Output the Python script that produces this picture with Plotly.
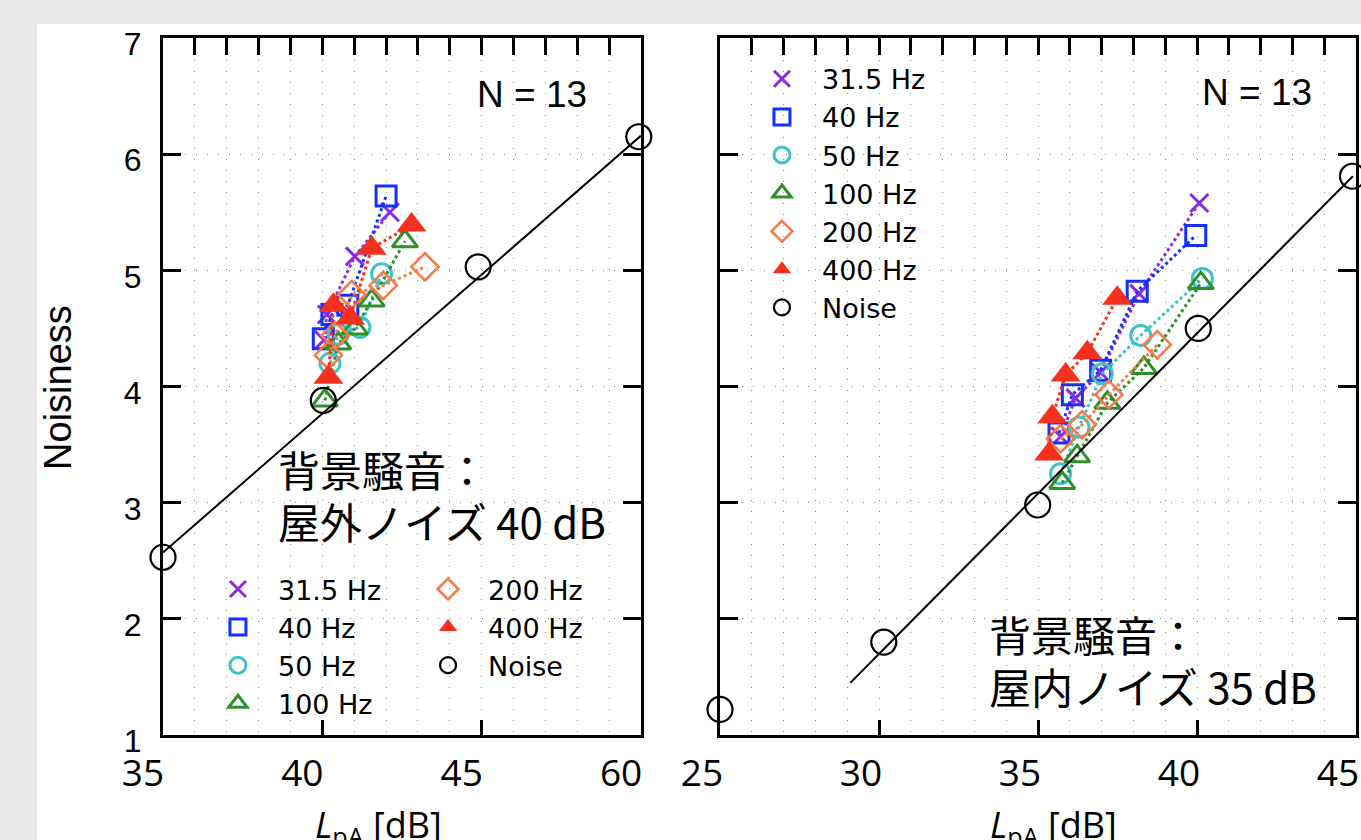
import plotly.graph_objects as go

# ---------------- data ----------------
series_names = ["31.5 Hz", "40 Hz", "50 Hz", "100 Hz", "200 Hz", "400 Hz"]

# Left panel: background noise = outdoor noise 40 dB
out_x_315 = [40.05, 40.14, 41.02, 42.12]
out_y_315 = [4.40, 4.62, 5.12, 5.50]
out_x_40 = [40.03, 40.30, 40.80, 42.00]
out_y_40 = [4.41, 4.62, 4.70, 5.64]
out_x_50 = [40.24, 40.50, 41.18, 41.86]
out_y_50 = [4.20, 4.45, 4.51, 4.97]
out_x_100 = [40.08, 40.50, 41.02, 41.55, 42.59]
out_y_100 = [3.88, 4.37, 4.50, 4.74, 5.25]
out_x_200 = [40.19, 40.40, 40.92, 41.91, 43.22]
out_y_200 = [4.27, 4.44, 4.79, 4.87, 5.03]
out_x_400 = [40.19, 40.35, 40.87, 41.55, 42.80]
out_y_400 = [4.08, 4.70, 4.59, 5.19, 5.39]
out_noise_x = [35.0, 40.03, 44.89, 49.93]
out_noise_y = [2.53, 3.88, 5.03, 6.15]
out_fit_x = [35.0, 50.0]
out_fit_y = [2.57, 6.16]

# Right panel: background noise = indoor noise 35 dB
in_x_315 = [35.71, 36.18, 36.97, 38.18, 40.07]
in_y_315 = [3.57, 3.90, 4.12, 4.80, 5.58]
in_x_40 = [35.66, 36.08, 36.97, 38.12, 39.96]
in_y_40 = [3.60, 3.93, 4.14, 4.82, 5.30]
in_x_50 = [35.71, 36.29, 37.02, 38.23, 40.17]
in_y_50 = [3.25, 3.65, 4.11, 4.44, 4.93]
in_x_100 = [35.76, 36.23, 37.18, 38.33, 40.12]
in_y_100 = [3.17, 3.40, 3.86, 4.16, 4.89]
in_x_200 = [35.71, 36.39, 37.23, 38.75]
in_y_200 = [3.55, 3.67, 3.93, 4.36]
in_x_400 = [35.35, 35.45, 35.87, 36.55, 37.49]
in_y_400 = [3.42, 3.74, 4.10, 4.29, 4.76]
in_noise_x = [25.0, 30.15, 34.99, 40.04, 44.89]
in_noise_y = [1.22, 1.80, 2.98, 4.50, 5.81]
in_fit_x = [29.1, 44.9]
in_fit_y = [1.45, 5.81]

left_ticks = [35, 40, 45, 50]
left_ticktext = ["35", "40", "45", "60"]
right_ticks = [25, 30, 35, 40, 45]
right_ticktext = ["25", "30", "35", "40", "45"]
y_ticks = [1, 2, 3, 4, 5, 6, 7]

n_text = "N = 13"
left_note = ["背景騒音：", "屋外ノイズ 40 dB"]
right_note = ["背景騒音：", "屋内ノイズ 35 dB"]

# ---------------- styles ----------------
styles = {
    "31.5 Hz": dict(color="#8a2be2", symbol="x-thin-open", size=18, lw=3),
    "40 Hz": dict(color="#1430ff", symbol="square-open", size=20, lw=3),
    "50 Hz": dict(color="#3ec2c6", symbol="circle-open", size=20, lw=3),
    "100 Hz": dict(color="#2f8f2a", symbol="triangle-up-open", size=22, lw=3),
    "200 Hz": dict(color="#f47c48", symbol="diamond-open", size=21, lw=2.6),
    "400 Hz": dict(color="#f5301f", symbol="triangle-up", size=26, lw=0),
    "Noise": dict(color="black", symbol="circle-open", size=25, lw=2.2),
}

left_data = {
    "31.5 Hz": (out_x_315, out_y_315),
    "40 Hz": (out_x_40, out_y_40),
    "50 Hz": (out_x_50, out_y_50),
    "100 Hz": (out_x_100, out_y_100),
    "200 Hz": (out_x_200, out_y_200),
    "400 Hz": (out_x_400, out_y_400),
}
right_data = {
    "31.5 Hz": (in_x_315, in_y_315),
    "40 Hz": (in_x_40, in_y_40),
    "50 Hz": (in_x_50, in_y_50),
    "100 Hz": (in_x_100, in_y_100),
    "200 Hz": (in_x_200, in_y_200),
    "400 Hz": (in_x_400, in_y_400),
}

fig = go.Figure()


def marker_of(name):
    s = styles[name]
    return dict(color=s["color"], symbol=s["symbol"], size=s["size"],
                line=dict(color=s["color"], width=s["lw"]))


def add_panel(data, noise_x, noise_y, fit_x, fit_y, xa, xa_top, ya, legend_for):
    # regression line for noise (on the top overlay axis, same scale)
    fig.add_trace(go.Scatter(x=fit_x, y=fit_y, mode="lines", xaxis=xa_top, yaxis=ya,
                             line=dict(color="black", width=2), showlegend=False,
                             hoverinfo="skip"))
    for name in series_names:
        xs, ys = data[name]
        fig.add_trace(go.Scatter(x=xs, y=ys, mode="lines", xaxis=xa, yaxis=ya,
                                 line=dict(color=styles[name]["color"], width=3, dash="dot"),
                                 showlegend=False, hoverinfo="skip"))
        fig.add_trace(go.Scatter(x=xs, y=ys, mode="markers", xaxis=xa, yaxis=ya,
                                 name=name, marker=marker_of(name),
                                 legend=legend_for(name)))
    fig.add_trace(go.Scatter(x=noise_x, y=noise_y, mode="markers", xaxis=xa, yaxis=ya,
                             name="Noise", marker=marker_of("Noise"), cliponaxis=False,
                             legend=legend_for("Noise")))


add_panel(left_data, out_noise_x, out_noise_y, out_fit_x, out_fit_y, "x", "x3", "y",
          lambda n: "legend" if n in ("31.5 Hz", "40 Hz", "50 Hz", "100 Hz") else "legend2")
add_panel(right_data, in_noise_x, in_noise_y, in_fit_x, in_fit_y, "x2", "x4", "y2",
          lambda n: "legend3")

GRID = dict(showgrid=True, gridcolor="#8a8a8a", gridwidth=1.3, griddash="1px,10px")
FRAME = dict(showline=True, linecolor="black", linewidth=3, zeroline=False,
             ticks="inside", tickcolor="black", tickwidth=3)
XTICKFONT = dict(family="Open Sans", size=37, color="black")

legend_common = dict(font=dict(family="DejaVu Sans", size=27, color="black"),
                     bgcolor="rgba(0,0,0,0)", itemwidth=70, xanchor="left",
                     yanchor="top", traceorder="normal", tracegroupgap=0)

fig.update_layout(
    template="none",
    width=1361, height=840,
    margin=dict(l=163, r=5, t=38, b=105, autoexpand=False),
    paper_bgcolor="#e8e8e8", plot_bgcolor="white",
    font=dict(family="Liberation Sans", color="black"),
    xaxis=dict(domain=[0, 0.4007], range=[35, 50], anchor="y",
               tickmode="array", tickvals=left_ticks, ticktext=left_ticktext,
               ticklen=15, showgrid=False, mirror=False, tickfont=XTICKFONT,
               ticklabelshift=-20, ticklabelstandoff=4, ticklabeloverflow="allow",
               automargin=False, **FRAME),
    xaxis3=dict(overlaying="x", side="top", anchor="y", range=[35, 50],
                tickmode="linear", tick0=35, dtick=1, ticklen=17,
                showticklabels=False, automargin=False, **FRAME, **GRID),
    yaxis=dict(domain=[0, 1], range=[1, 7], anchor="x", tickmode="array",
               tickvals=y_ticks, ticklen=18, mirror="ticks",
               tickfont=dict(family="Liberation Sans", size=32, color="black"),
               ticklabelstandoff=12, ticklabelshift=6, automargin=False,
               **FRAME, **GRID),
    xaxis2=dict(domain=[0.4669, 1], range=[25, 45], anchor="y2",
                tickmode="array", tickvals=right_ticks, ticktext=right_ticktext,
                ticklen=15, showgrid=False, mirror=False, tickfont=XTICKFONT,
                ticklabelshift=-18, ticklabelstandoff=4, ticklabeloverflow="allow",
                automargin=False, **FRAME),
    xaxis4=dict(overlaying="x2", side="top", anchor="y2", range=[25, 45],
                tickmode="linear", tick0=25, dtick=1, ticklen=17,
                showticklabels=False, automargin=False, **FRAME, **GRID),
    yaxis2=dict(domain=[0, 1], range=[1, 7], anchor="x2", tickmode="array",
                tickvals=y_ticks, ticklen=18, mirror="ticks", showticklabels=False,
                automargin=False, **FRAME, **GRID),
    legend=dict(x=0.0293, y=0.2440, **legend_common),
    legend2=dict(x=0.2054, y=0.2440, **legend_common),
    legend3=dict(x=0.4853, y=0.976, **legend_common),
    shapes=[dict(type="rect", xref="paper", yref="paper", x0=-0.1056, x1=1.05,
                 y0=-0.3, y1=1.0201, fillcolor="white", line=dict(width=0),
                 layer="below")],
)

ann = []
NFONT = dict(family="Liberation Sans", size=37, color="black")
JFONT = dict(family="Noto Sans CJK JP", size=42, color="black")
TFONT = dict(family="Open Sans", size=36, color="black")
ann.append(dict(text=n_text, x=46.58, y=6.51, xref="x", yref="y", showarrow=False,
                font=NFONT, xanchor="center", yanchor="middle"))
ann.append(dict(text=n_text, x=41.88, y=6.53, xref="x2", yref="y2", showarrow=False,
                font=NFONT, xanchor="center", yanchor="middle"))
for i, (yl, yr) in enumerate([(3.29, 1.87), (2.85, 1.43)]):
    ann.append(dict(text=left_note[i], x=38.55, y=yl, xref="x", yref="y", showarrow=False,
                    font=JFONT, xanchor="left", yanchor="middle"))
    ann.append(dict(text=right_note[i], x=33.40, y=yr, xref="x2", yref="y2", showarrow=False,
                    font=JFONT, xanchor="left", yanchor="middle"))
xtitle = "<i>L</i><sub>pA</sub> [dB]"
ann.append(dict(text=xtitle, x=41.75, y=-0.131, xref="x", yref="paper", showarrow=False,
                font=TFONT, xanchor="center", yanchor="middle"))
ann.append(dict(text=xtitle, x=35.49, y=-0.131, xref="x2", yref="paper", showarrow=False,
                font=TFONT, xanchor="center", yanchor="middle"))
ann.append(dict(text="Noisiness", x=-0.088, y=0.498, xref="paper", yref="paper",
                showarrow=False, textangle=-90, xanchor="center", yanchor="middle",
                font=dict(family="Liberation Sans", size=38, color="black")))
fig.update_layout(annotations=ann)

fig.write_html("out.html", config={"displayModeBar": False},
               post_script="document.body.style.margin='0px';")
